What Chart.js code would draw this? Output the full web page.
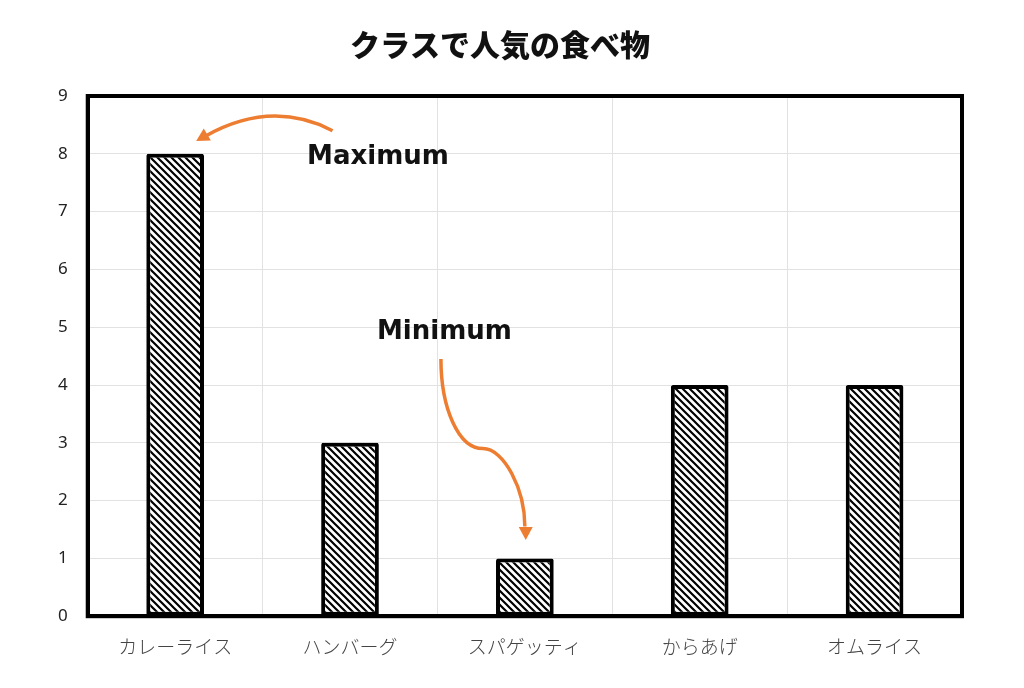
<!DOCTYPE html>
<html>
<head>
<meta charset="utf-8">
<script src="https://cdn.jsdelivr.net/npm/chart.js@4"></script>
<style>
  html, body { margin: 0; padding: 0; background: #fff; }
  #wrap { width: 1024px; height: 688px; }
</style>
</head>
<body>
<div id="wrap"><canvas id="chart"></canvas></div>
<script>
// Data
const categories = ["カレーライス", "ハンバーグ", "スパゲッティ", "からあげ", "オムライス"];
const votes = [8, 3, 1, 4, 4];
const chartTitle = "クラスで人気の食べ物";

const fontJP = "'Noto Sans CJK JP', 'Noto Sans', sans-serif";
const clrArrow = "#ed7d31";

// Hatch pattern (\\\ diagonal)
const makeHatch = () => {
  const size = 7;
  const c = document.createElement("canvas");
  c.width = size;
  c.height = size;
  const g = c.getContext("2d");
  g.fillStyle = "#fff";
  g.fillRect(0, 0, size, size);
  g.strokeStyle = "#000";
  g.lineWidth = 2.2;
  g.beginPath();
  g.moveTo(-1, -1);
  g.lineTo(size + 1, size + 1);
  g.moveTo(-1, size - 1);
  g.lineTo(1, size + 1);
  g.moveTo(size - 1, -1);
  g.lineTo(size + 1, 1);
  g.stroke();
  return g.createPattern(c, "repeat");
};

const arrowHead = (ctx, x, y, angle) => {
  ctx.save();
  ctx.translate(x, y);
  ctx.rotate(angle);
  ctx.beginPath();
  ctx.moveTo(0, 0);
  ctx.lineTo(-13, -7);
  ctx.lineTo(-13, 7);
  ctx.closePath();
  ctx.fill();
  ctx.restore();
};

// Frame + annotations
const extrasPlugin = {
  id: "extras",
  afterDraw(chart) {
    const { ctx, chartArea: a, scales } = chart;
    const xs = scales.x;
    const ys = scales.y;
    ctx.save();
    ctx.strokeStyle = "#000";
    ctx.lineWidth = 4;
    ctx.strokeRect(a.left, a.top, a.right - a.left, a.bottom - a.top);

    // position helper in data space (category index, value)
    const step = xs.getPixelForValue(1) - xs.getPixelForValue(0);
    const px = (i) => xs.getPixelForValue(0) + i * step;
    const py = (v) => ys.getPixelForValue(v);

    ctx.fillStyle = "#111";
    ctx.font = "bold 26px 'DejaVu Sans', sans-serif";
    ctx.textAlign = "center";
    ctx.textBaseline = "middle";
    ctx.fillText("Maximum", px(1.16), py(7.94));
    ctx.fillText("Minimum", px(1.54), py(4.92));

    ctx.strokeStyle = clrArrow;
    ctx.fillStyle = clrArrow;
    ctx.lineWidth = 3.5;
    // Maximum arrow
    ctx.beginPath();
    ctx.moveTo(px(0.9), py(8.4));
    ctx.quadraticCurveTo(px(0.55), py(8.95), px(0.17), py(8.3));
    ctx.stroke();
    arrowHead(ctx, px(0.12), py(8.22), Math.PI * 0.83);

    // Minimum arrow
    ctx.beginPath();
    ctx.moveTo(px(1.52), py(4.45));
    ctx.bezierCurveTo(px(1.52), py(3.6), px(1.62), py(2.9), px(1.76), py(2.9));
    ctx.bezierCurveTo(px(1.88), py(2.9), px(2.0), py(2.2), px(2.0), py(1.55));
    ctx.stroke();
    arrowHead(ctx, px(2.005), py(1.32), Math.PI / 2);
    ctx.restore();
  },
};

const config = {
  type: "bar",
  data: {
    labels: categories,
    datasets: [
      {
        data: votes,
        backgroundColor: makeHatch(),
        borderColor: "#000",
        borderWidth: 4,
        borderRadius: 2,
        borderSkipped: false,
        categoryPercentage: 1,
        barPercentage: 0.33,
      },
    ],
  },
  options: {
    responsive: true,
    maintainAspectRatio: false,
    animation: false,
    layout: {
      padding: { left: 38, right: 62, top: 10, bottom: 11 },
    },
    scales: {
      x: {
        grid: { color: "#e2e2e2", offset: true, drawTicks: false },
        border: { color: "#000", width: 4 },
        ticks: {
          color: "#444",
          padding: 19,
          font: { family: fontJP, size: 19, weight: "300" },
        },
      },
      y: {
        min: 0,
        max: 9,
        grid: { color: "#e2e2e2", drawTicks: false },
        border: { color: "#000", width: 4 },
        ticks: {
          stepSize: 1,
          color: "#222",
          padding: 20,
          font: { family: "'Noto Sans', sans-serif", size: 17 },
        },
      },
    },
    plugins: {
      legend: { display: false },
      tooltip: { enabled: false },
      title: {
        display: true,
        text: chartTitle,
        color: "#111",
        font: { family: fontJP, size: 30, weight: "900" },
        padding: { top: 17, bottom: 33 },
      },
    },
  },
  plugins: [extrasPlugin],
};

new Chart(document.getElementById("chart"), config);
</script>
</body>
</html>
